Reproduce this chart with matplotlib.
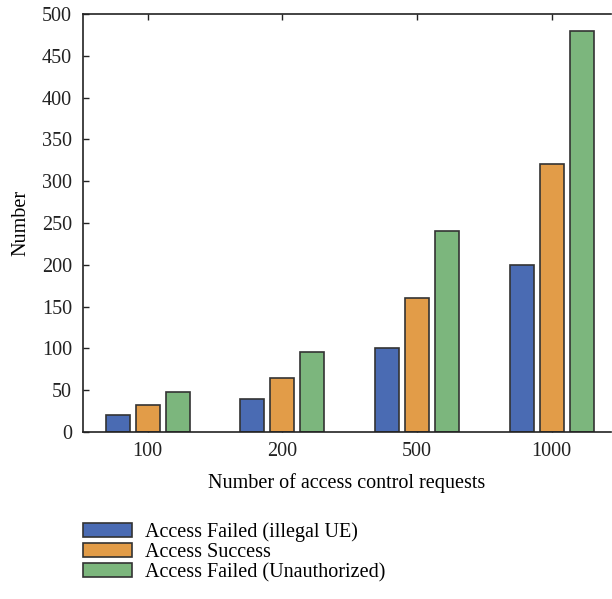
import numpy as np
import matplotlib
matplotlib.use("Agg")
import matplotlib.pyplot as plt

plt.rcParams['font.family'] = ['Liberation Serif', 'DejaVu Serif']

categories = ["100", "200", "500", "1000"]
series_names = ["Access Failed (illegal UE)", "Access Success", "Access Failed (Unauthorized)"]
failed_illegal = [20, 40, 100, 200]
success = [32, 64, 160, 320]
failed_unauth = [48, 96, 240, 480]
colors = ["#4a6bb3", "#e29c48", "#7cb67d"]

FS = 14.5

fig = plt.figure(figsize=(6.12, 5.99), dpi=100)
ax = fig.add_axes([83 / 612, 1 - 432 / 599, (611 - 83) / 612, (432 - 14) / 599])

x = np.arange(len(categories))
pitch = 0.222
width = 0.178
handles = []
for i, (vals, name, c) in enumerate(zip([failed_illegal, success, failed_unauth], series_names, colors)):
    b = ax.bar(x + (i - 1) * pitch, vals, width, color=c, edgecolor="#333333",
               linewidth=1.2, label=name, zorder=2)
    handles.append(b)

ax.set_xlim(-0.48, 3.44)
ax.set_ylim(0, 500)
ax.set_yticks(np.arange(0, 501, 50))
ax.set_xticks(x)
ax.set_xticklabels(categories)
ax.tick_params(axis='both', direction='in', labelsize=FS, length=4, width=1, colors='#222222')
ax.tick_params(axis='x', top=True, pad=7)
ax.tick_params(axis='y', right=False, pad=8)
for s in ax.spines.values():
    s.set_linewidth(1.2)
    s.set_color('#222222')
ax.spines['right'].set_visible(False)

ax.set_xlabel("Number of access control requests", fontsize=FS, labelpad=9)
ax.set_ylabel("Number", fontsize=FS, labelpad=8)

fig.legend(handles=handles, labels=series_names, loc='upper left',
           bbox_to_anchor=(67 / 612, 1 - 506 / 599), frameon=False,
           fontsize=FS, handlelength=2.44, handleheight=0.7,
           labelspacing=0.05, handletextpad=0.65, borderpad=0.3)

fig.savefig("out.png", dpi=100)
